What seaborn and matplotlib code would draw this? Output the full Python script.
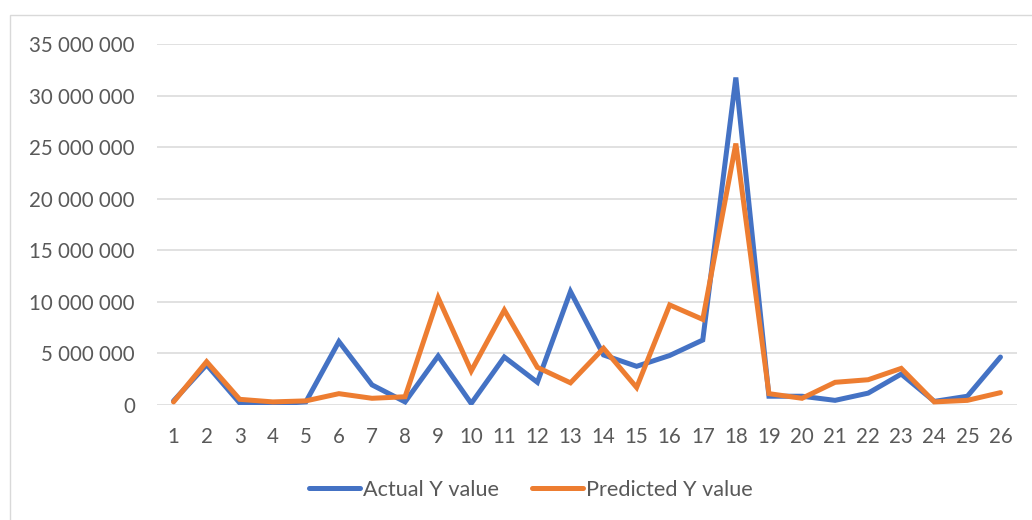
import matplotlib
matplotlib.use("Agg")
import matplotlib.pyplot as plt
from matplotlib.patches import Rectangle
from matplotlib.lines import Line2D
from matplotlib.ticker import FuncFormatter, MultipleLocator
import seaborn as sns
import pandas as pd

# Observation index and the two series
observations = list(range(1, 27))
actual_y = [400_000, 3_900_000, 200_000, 100_000, 300_000, 6_150_000, 1_950_000, 300_000,
            4_750_000, 150_000, 4_650_000, 2_200_000, 11_000_000, 4_850_000, 3_750_000,
            4_800_000, 6_300_000, 31_750_000, 850_000, 850_000, 450_000, 1_150_000,
            3_000_000, 350_000, 850_000, 4_650_000]
predicted_y = [300_000, 4_200_000, 550_000, 300_000, 400_000, 1_100_000, 650_000, 800_000,
               10_400_000, 3_300_000, 9_200_000, 3_650_000, 2_150_000, 5_500_000, 1_700_000,
               9_700_000, 8_300_000, 25_350_000, 1_100_000, 650_000, 2_200_000, 2_450_000,
               3_550_000, 300_000, 450_000, 1_200_000]
series_names = ["Actual Y value", "Predicted Y value"]
series_colors = ["#4472C4", "#ED7D31"]

df = pd.DataFrame({
    "obs": observations * 2,
    "value": actual_y + predicted_y,
    "series": [series_names[0]] * len(actual_y) + [series_names[1]] * len(predicted_y),
})

sns.set_theme(style="white")
plt.rcParams["font.family"] = ["Lato", "DejaVu Sans"]

FS = 14.8
LEG_FS = 15.6
LW = 3.6
TEXT = "#595959"

fig = plt.figure(figsize=(10.32, 5.2), dpi=100)
ax = fig.add_axes([157 / 1032, 1 - 405 / 520, (1017 - 157) / 1032, (405 - 44) / 520])

sns.lineplot(data=df, x="obs", y="value", hue="series", palette=series_colors,
             linewidth=LW, ax=ax, legend=False, sort=False, zorder=3)
for line in ax.lines:
    line.set_solid_capstyle("round")
    line.set_solid_joinstyle("miter")

ax.set_xlim(0.5, 26.5)
ax.set_ylim(0, 35_000_000)
ax.yaxis.set_major_locator(MultipleLocator(5_000_000))
ax.yaxis.set_major_formatter(FuncFormatter(lambda v, p: f"{int(v):,}".replace(",", " ")))
ax.set_xticks(observations)
ax.set_xticklabels([str(o) for o in observations])
ax.grid(axis="y", color="#D9D9D9", linewidth=1.1, zorder=0)
ax.grid(axis="x", visible=False)
for s in ax.spines.values():
    s.set_visible(False)
ax.tick_params(axis="y", length=0, pad=16, labelsize=FS, labelcolor=TEXT)
ax.tick_params(axis="x", length=0, pad=16, labelsize=FS, labelcolor=TEXT)
ax.set_xlabel("")
ax.set_ylabel("")

# Legend below the plot
handles = [Line2D([0], [0], color=c, linewidth=LW, solid_capstyle="round") for c in series_colors]
fig.legend(handles, series_names, loc="center", bbox_to_anchor=(531 / 1032, 1 - 490 / 520),
           ncol=2, frameon=False, fontsize=LEG_FS, labelcolor=TEXT, handlelength=2.35,
           handletextpad=0.15, columnspacing=1.5, borderpad=0, borderaxespad=0)

# Chart-area border
fig.patches.append(Rectangle((9.5 / 1032, -0.05), 1.2, 1 - 14.5 / 520 + 0.05,
                             transform=fig.transFigure, fill=False,
                             edgecolor="#D9D9D9", linewidth=1.0))

fig.savefig("out.png", dpi=100, facecolor="white")
